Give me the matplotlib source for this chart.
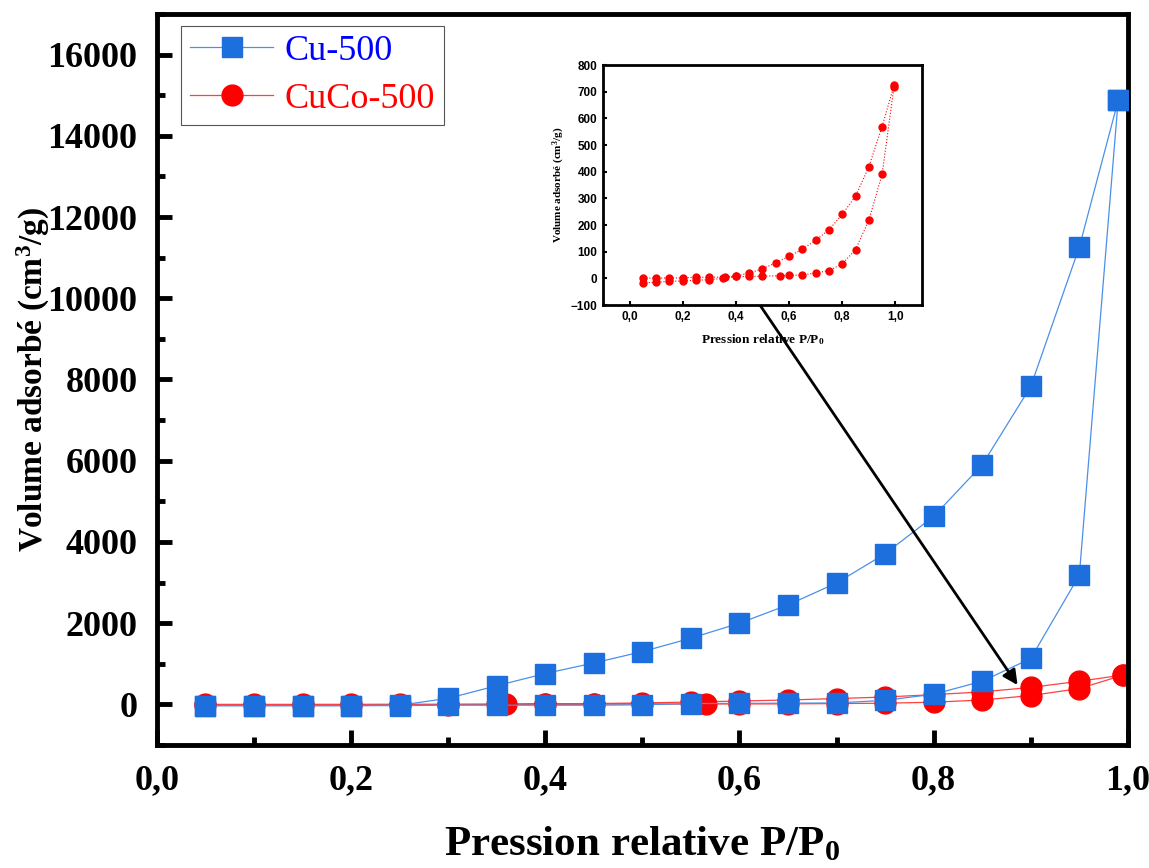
import matplotlib
matplotlib.use('Agg')
import matplotlib.pyplot as plt
import numpy as np
from matplotlib.ticker import MultipleLocator, FuncFormatter

plt.rcParams['font.family'] = 'Liberation Serif'
plt.rcParams['mathtext.default'] = 'regular'

# Cu-500 : adsorption puis désorption
cu_ads_x = [0.05, 0.1, 0.15, 0.2, 0.25, 0.3, 0.35, 0.4, 0.45, 0.5, 0.55, 0.6, 0.65, 0.7, 0.75, 0.8, 0.85, 0.9, 0.95, 0.99]
cu_ads_y = [-30, -30, -30, -30, -30, -20, -20, -20, -20, -10, 20, 25, 30, 35, 100, 250, 570, 1130, 3180, 14870]
cu_des_x = [0.99, 0.95, 0.9, 0.85, 0.8, 0.75, 0.7, 0.65, 0.6, 0.55, 0.5, 0.45, 0.4, 0.35, 0.3, 0.25, 0.2, 0.15, 0.1, 0.05]
cu_des_y = [14870, 11260, 7830, 5900, 4630, 3710, 2990, 2450, 2000, 1630, 1300, 1020, 760, 460, 150, -20, -30, -30, -30, -30]

# CuCo-500 : adsorption puis désorption
cuco_ads_x = [0.05, 0.1, 0.15, 0.2, 0.25, 0.3, 0.35, 0.4, 0.45, 0.5, 0.565, 0.6, 0.65, 0.7, 0.75, 0.8, 0.85, 0.9, 0.95, 0.995]
cuco_ads_y = [-17, -15, -11, -10, -7, -5, 0, 7, 7, 8, 10, 11, 13, 20, 29, 54, 108, 217, 390, 719]
cuco_des_x = [0.995, 0.95, 0.9, 0.85, 0.8, 0.75, 0.7, 0.65, 0.6, 0.55, 0.5, 0.45, 0.4, 0.36, 0.3, 0.25, 0.2, 0.15, 0.1, 0.05]
cuco_des_y = [724, 569, 418, 308, 240, 182, 143, 109, 83, 58, 36, 20, 9, 5, 4, 4, 2, 1, 1, 1]

cu_x = cu_ads_x + cu_des_x
cu_y = cu_ads_y + cu_des_y
cuco_x = cuco_ads_x + cuco_des_x
cuco_y = cuco_ads_y + cuco_des_y

blue = '#1c6fdc'
red = '#ff0000'
comma = FuncFormatter(lambda v, pos: f'{v:.1f}'.replace('.', ','))

fig = plt.figure(figsize=(11.49, 8.68), dpi=100)
ax = fig.add_axes([0.1366, 0.1417, 0.845, 0.8422])

ax.plot(cuco_x, cuco_y, '-o', color='#ff4040', mfc=red, mec=red, lw=0.9, ms=15,
        label='CuCo-500', zorder=2)
ax.plot(cu_x, cu_y, '-s', color='#4a90ea', mfc=blue, mec=blue, lw=0.9, ms=14,
        label='Cu-500', zorder=3)

ax.set_xlim(0, 1.0)
ax.set_ylim(-1000, 17000)
ax.xaxis.set_major_locator(MultipleLocator(0.2))
ax.xaxis.set_minor_locator(MultipleLocator(0.1))
ax.yaxis.set_major_locator(MultipleLocator(2000))
ax.yaxis.set_minor_locator(MultipleLocator(1000))
ax.xaxis.set_major_formatter(comma)
ax.tick_params(which='both', direction='in', width=3.5)
ax.tick_params(which='major', length=11, pad=14)
ax.tick_params(which='minor', length=6)
for s in ax.spines.values():
    s.set_linewidth(3.5)
for lab in ax.get_xticklabels() + ax.get_yticklabels():
    lab.set_fontsize(26)
    lab.set_fontweight('bold')

ax.set_xlabel('Pression relative P/P$_0$', fontsize=31, fontweight='bold', labelpad=20)
ax.set_ylabel('Volume adsorbé (cm$^3$/g)', fontsize=24, fontweight='bold')
ax.yaxis.set_label_coords(-0.108, 0.5)

handles, labels = ax.get_legend_handles_labels()
leg = ax.legend(handles[::-1], labels[::-1], loc='upper left', bbox_to_anchor=(0.025, 0.984),
                borderaxespad=0, fontsize=26, fancybox=False, framealpha=1,
                edgecolor='#555555', handlelength=2.3, handletextpad=0.3,
                borderpad=0.25, labelspacing=0.4)
leg.get_frame().set_linewidth(0.8)
leg.get_texts()[0].set_color('#0000ff')
leg.get_texts()[1].set_color(red)

ax.annotate('', xy=(0.888, 420), xytext=(0.62, 9870),
            arrowprops=dict(arrowstyle='-|>', lw=2, color='black', mutation_scale=22))

# encart CuCo-500
ins = fig.add_axes([0.5248, 0.6486, 0.2776, 0.2765])
ins.plot(cuco_x, cuco_y, ':o', color=red, lw=0.8, ms=5)
ins.set_xlim(-0.1, 1.1)
ins.set_ylim(-100, 800)
ins.xaxis.set_major_locator(MultipleLocator(0.2))
ins.xaxis.set_minor_locator(MultipleLocator(0.1))
ins.yaxis.set_major_locator(MultipleLocator(100))
ins.xaxis.set_major_formatter(comma)
ins.tick_params(which='both', direction='in', width=1.5, length=3, pad=4)
ins.tick_params(which='minor', length=0)
for s in ins.spines.values():
    s.set_linewidth(2)
for lab in ins.get_xticklabels() + ins.get_yticklabels():
    lab.set_fontsize(8.5)
    lab.set_fontweight('bold')
    lab.set_family('Liberation Sans')
ins.set_xlabel('Pression relative P/P$_0$', fontsize=9.5, fontweight='bold', labelpad=7)
ins.set_ylabel('Volume adsorbé (cm$^3$/g)', fontsize=8, fontweight='bold', labelpad=3)

fig.savefig('out.png', dpi=100)
